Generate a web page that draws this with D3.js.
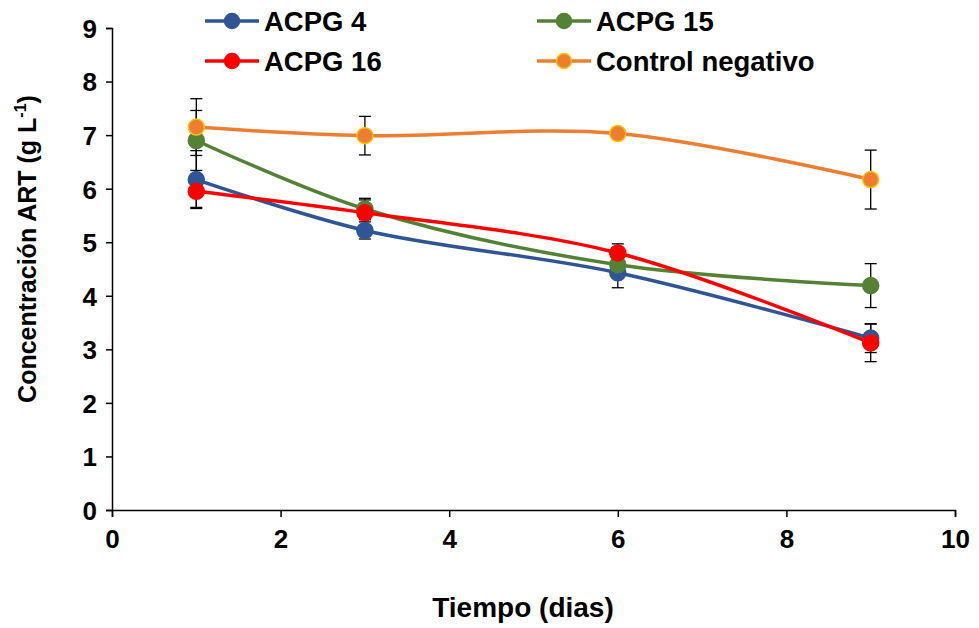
<!DOCTYPE html>
<html>
<head>
<meta charset="utf-8">
<script src="https://cdn.jsdelivr.net/npm/d3@7"></script>
<style>
  body { margin: 0; background: #fff; }
  text { font-family: "Liberation Sans", Arial, sans-serif; font-weight: bold; }
</style>
</head>
<body>
<div id="chart"></div>
<script>
// days sampled
const dias = [1, 3, 6, 9];

// series values (g L-1) and standard deviations
const acpg4 = [6.17, 5.22, 4.43, 3.21];
const acpg4Err = [0.54, 0.16, 0.28, 0.27];
const acpg15 = [6.9, 5.62, 4.58, 4.19];
const acpg15Err = [0.56, 0.2, 0.1, 0.41];
const acpg16 = [5.95, 5.55, 4.8, 3.12];
const acpg16Err = [0.3, 0.24, 0.17, 0.35];
const control = [7.15, 6.99, 7.03, 6.17];
const controlErr = [0.53, 0.36, 0.1, 0.55];

const seriesNames = ["ACPG 4", "ACPG 15", "ACPG 16", "Control negativo"];
const xTicks = [0, 2, 4, 6, 8, 10];
const yTicks = [0, 1, 2, 3, 4, 5, 6, 7, 8, 9];

const series = [
  { name: seriesNames[0], vals: acpg4, err: acpg4Err, color: "#2F5597", edge: "#2F5597" },
  { name: seriesNames[1], vals: acpg15, err: acpg15Err, color: "#548235", edge: "#548235" },
  { name: seriesNames[2], vals: acpg16, err: acpg16Err, color: "#FF0000", edge: "#FF0000" },
  { name: seriesNames[3], vals: control, err: controlErr, color: "#ED7D31", edge: "#FFC000" }
];

const width = 979, height = 628;
const margin = { left: 112, right: 24, top: 28, bottom: 118 };

const svg = d3.select("#chart").append("svg")
  .attr("width", width)
  .attr("height", height);

const x = d3.scaleLinear().domain([0, 10]).range([margin.left, width - margin.right]);
const y = d3.scaleLinear().domain([0, 9]).range([height - margin.bottom, margin.top]);

// ejes
const xAxis = svg.append("g")
  .attr("transform", `translate(0,${y(0)})`)
  .call(d3.axisBottom(x).tickValues(xTicks).tickSize(7).tickPadding(12));
const yAxis = svg.append("g")
  .attr("transform", `translate(${x(0)},0)`)
  .call(d3.axisLeft(y).tickValues(yTicks).tickSize(6).tickPadding(9));

[xAxis, yAxis].forEach(g => {
  g.select(".domain").attr("stroke", "#000").attr("stroke-width", 1.5);
  g.selectAll(".tick line").attr("stroke", "#000").attr("stroke-width", 1.5);
  g.selectAll(".tick text").attr("fill", "#000").style("font-size", "26px");
});
xAxis.selectAll(".tick text").attr("dy", "0.72em");
yAxis.selectAll(".tick text").attr("dy", "0.36em");

// titulos
svg.append("text")
  .attr("x", 523)
  .attr("y", 617)
  .attr("text-anchor", "middle")
  .style("font-size", "28px")
  .text("Tiempo (dias)");

const yTitle = svg.append("text")
  .attr("transform", `translate(36,${(y(0) + y(9)) / 2 - 20}) rotate(-90)`)
  .attr("text-anchor", "middle")
  .style("font-size", "25px");
yTitle.append("tspan").text("Concentración ART (g L");
yTitle.append("tspan").attr("dy", -10).style("font-size", "16px").text("-1");
yTitle.append("tspan").attr("dy", 10).text(")");

// barras de error
series.forEach(s => {
  const g = svg.append("g");
  dias.forEach((d, i) => {
    const cx = x(d), lo = y(s.vals[i] - s.err[i]), hi = y(s.vals[i] + s.err[i]);
    g.append("line").attr("x1", cx).attr("x2", cx).attr("y1", lo).attr("y2", hi)
      .attr("stroke", "#000").attr("stroke-width", 1.3);
    [lo, hi].forEach(yy => {
      g.append("line").attr("x1", cx - 6).attr("x2", cx + 6).attr("y1", yy).attr("y2", yy)
        .attr("stroke", "#000").attr("stroke-width", 1.3);
    });
  });
});

// lineas suavizadas
const line = d3.line()
  .x((d, i) => x(dias[i]))
  .y(d => y(d))
  .curve(d3.curveCatmullRom.alpha(0.5));

series.forEach(s => {
  svg.append("path")
    .datum(s.vals)
    .attr("d", line)
    .attr("fill", "none")
    .attr("stroke", s.color)
    .attr("stroke-width", 3.5);
  svg.selectAll(null)
    .data(s.vals)
    .enter()
    .append("circle")
    .attr("cx", (d, i) => x(dias[i]))
    .attr("cy", d => y(d))
    .attr("r", 8)
    .attr("fill", s.color)
    .attr("stroke", s.edge)
    .attr("stroke-width", 1.5);
});

// leyenda
const legendPos = [
  { lx: 205, ly: 21 },
  { lx: 537, ly: 21 },
  { lx: 205, ly: 61 },
  { lx: 537, ly: 61 }
];
series.forEach((s, i) => {
  const p = legendPos[i];
  const g = svg.append("g").attr("transform", `translate(${p.lx},${p.ly})`);
  g.append("line").attr("x1", 0).attr("x2", 54).attr("y1", 0).attr("y2", 0)
    .attr("stroke", s.color).attr("stroke-width", 3.5);
  g.append("circle").attr("cx", 27).attr("cy", 0).attr("r", 7.5)
    .attr("fill", s.color).attr("stroke", s.edge).attr("stroke-width", 1.5);
  g.append("text").attr("x", 59).attr("y", 0).attr("dy", "0.36em")
    .style("font-size", "27.5px").text(s.name);
});
</script>
</body>
</html>
